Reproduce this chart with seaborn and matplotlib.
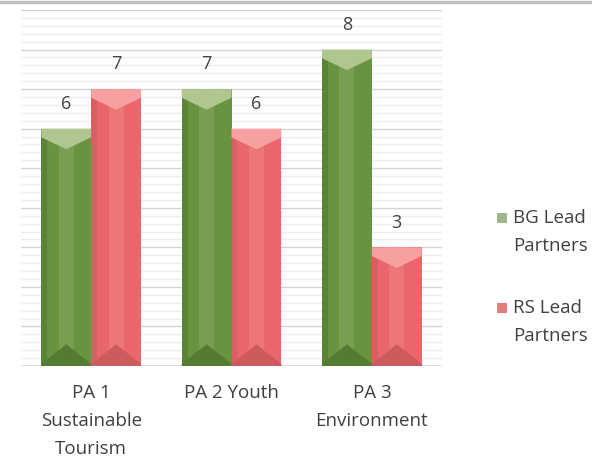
import numpy as np
import matplotlib.pyplot as plt
import seaborn as sns
import pandas as pd
from matplotlib.patches import Polygon, Rectangle
from matplotlib.lines import Line2D

categories = ["PA 1\nSustainable\nTourism", "PA 2 Youth", "PA 3\nEnvironment"]
series = ["BG Lead\nPartners", "RS Lead\nPartners"]
bg_values = [6, 7, 8]
rs_values = [7, 6, 3]

df = pd.DataFrame({
    "cat": categories * 2,
    "series": [series[0]] * 3 + [series[1]] * 3,
    "value": bg_values + rs_values,
})

base = {"BG Lead\nPartners": "#68933f", "RS Lead\nPartners": "#e9676b"}
light = {"BG Lead\nPartners": "#afc78f", "RS Lead\nPartners": "#f6a0a2"}
dark = {"BG Lead\nPartners": "#557a32", "RS Lead\nPartners": "#cf5a5e"}
mid = {"BG Lead\nPartners": "#7da257", "RS Lead\nPartners": "#ef7a7d"}

sns.set_style("white")
plt.rcParams["font.family"] = ["Open Sans", "DejaVu Sans"]
txt = "#404040"

fig = plt.figure(figsize=(5.92, 4.59), dpi=100)
ax = fig.add_axes([21 / 592, 1 - 366 / 459, 421 / 592, 356 / 459])

sns.barplot(data=df, x="cat", y="value", hue="series", palette=base,
            width=0.71, ax=ax, legend=False, saturation=1, zorder=3)

ax.set_ylim(0, 9)
ax.set_xlim(-0.5, 2.5)

# gridlines: major every 1, minor every 0.2
for v in np.arange(0.2, 9.01, 0.2):
    major = abs(v - round(v)) < 1e-6
    ax.axhline(v, color="#d4d4d4" if major else "#ececec", lw=1.0, zorder=1)
ax.axhline(0, color="#d9d9d9", lw=1.2, zorder=2)

# bevel decoration on each bar
hues = [series[0]] * 3 + [series[1]] * 3
vals = bg_values + rs_values
for p, h, v in zip(ax.patches, hues, vals):
    x0 = p.get_x()
    w = p.get_width()
    x1 = x0 + w
    xc = x0 + w / 2
    top = p.get_height()
    p.set_edgecolor("none")
    ax.add_patch(Rectangle((x0 + w * 0.35, 0), w * 0.3, top, color=mid[h], lw=0, zorder=3.5, alpha=0.8))
    ax.add_patch(Rectangle((x0, 0), w * 0.12, top, color=dark[h], lw=0, zorder=3.5, alpha=0.6))
    ax.add_patch(Polygon([(x0, top), (x1, top), (x1, top - 0.22), (xc, top - 0.52), (x0, top - 0.22)],
                         closed=True, color=light[h], lw=0, zorder=4))
    ax.add_patch(Polygon([(x0, 0), (x1, 0), (x1, 0.05), (xc, 0.55), (x0, 0.05)],
                         closed=True, color=dark[h], lw=0, zorder=4))
    ax.text(xc, top + 0.4, str(v), ha="center", va="bottom", fontsize=13, color=txt)

ax.set_xlabel("")
ax.set_ylabel("")
ax.set_yticks([])
ax.tick_params(axis="x", length=0, pad=13, labelsize=13.5, labelcolor=txt)
for lbl in ax.get_xticklabels():
    lbl.set_verticalalignment("top")
    lbl.set_linespacing(1.72)
sns.despine(ax=ax, left=True, bottom=True, top=True, right=True)

# legend drawn by hand so the marker sits on the first line
leg_colors = ["#9fb88a", "#e47b7e"]
leg_tops = [209, 299]
for name, c, t in zip(series, leg_colors, leg_tops):
    fig.text(513 / 592, 1 - t / 459, name, ha="left", va="top", fontsize=13.5,
             color=txt, linespacing=1.72)
    fig.add_artist(Rectangle((497 / 592, 1 - (t + 14) / 459), 10 / 592, 10 / 459,
                             color=c, lw=0, transform=fig.transFigure))

# top border line
fig.add_artist(Line2D([0, 1], [1 - 1.5 / 459, 1 - 1.5 / 459], color="#bfbfbf", lw=2.5))

fig.savefig("out.png", dpi=100)
